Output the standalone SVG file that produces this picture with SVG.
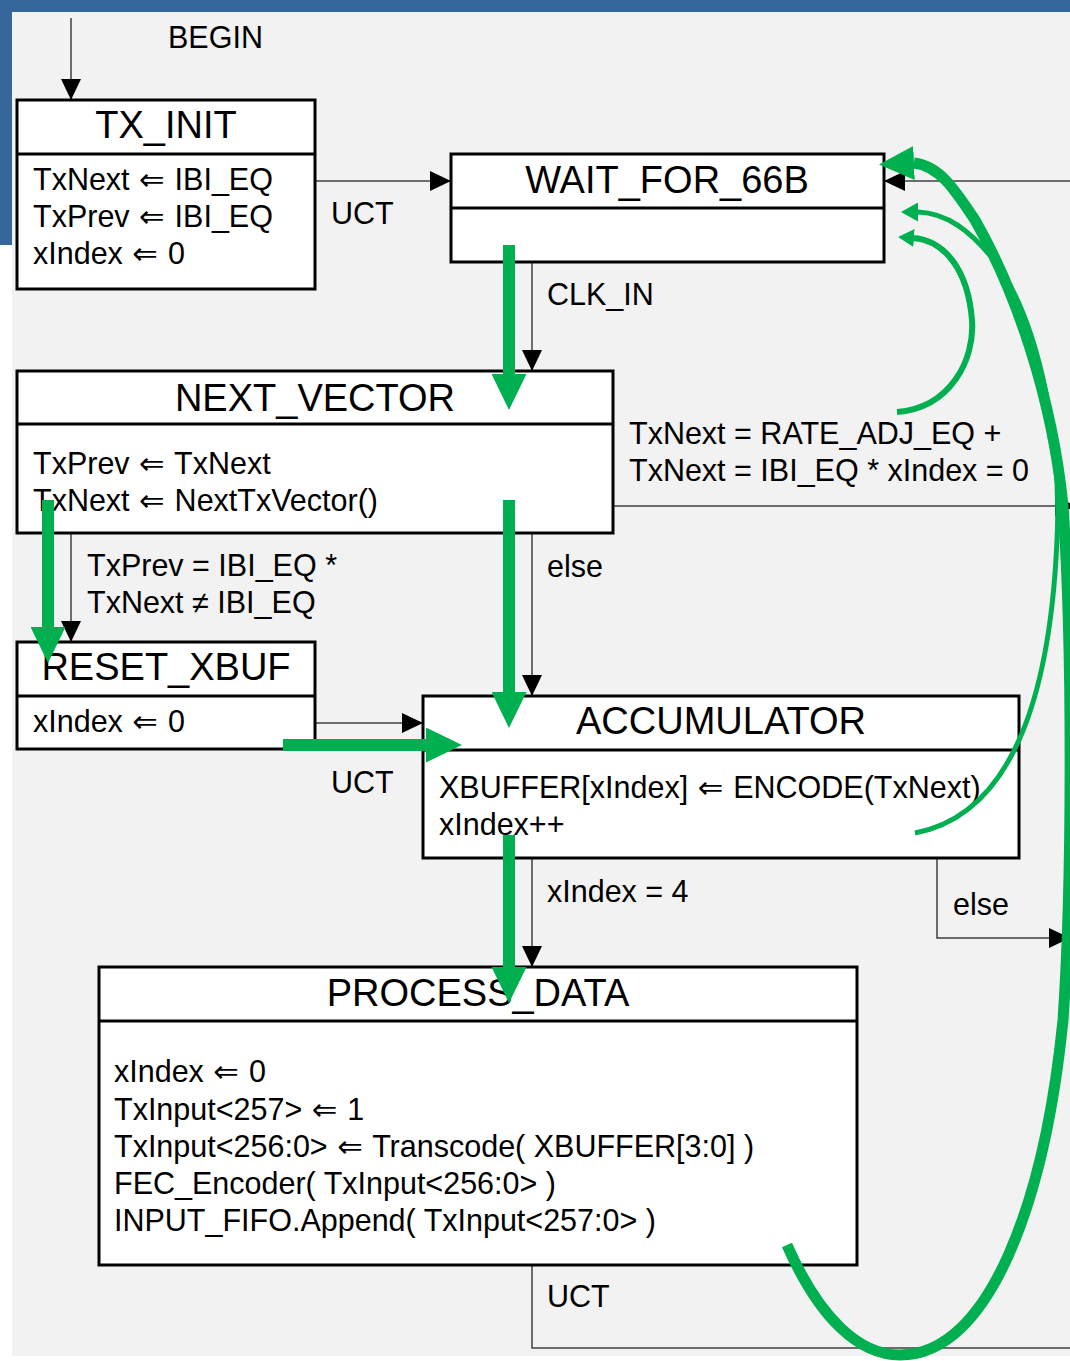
<svg xmlns="http://www.w3.org/2000/svg" width="1070" height="1361" viewBox="0 0 1070 1361">
<defs>
<style>
.box{fill:#fff;stroke:#000;stroke-width:3}
.div{stroke:#000;stroke-width:3}
.title{font-family:"Liberation Sans",Arial,"DejaVu Sans",sans-serif;font-size:38px;text-anchor:middle;fill:#000}
.txt{font-family:"Liberation Sans",Arial,"DejaVu Sans",sans-serif;font-size:30.5px;fill:#000}
.arw{font-family:"DejaVu Sans",sans-serif}
.conn{fill:none;stroke:#404040;stroke-width:1.5}
.hl{fill:none;stroke:#00B050}
</style>
<marker id="ah" markerUnits="userSpaceOnUse" markerWidth="21" markerHeight="20" refX="21" refY="10" orient="auto"><path d="M0,0 L21,10 L0,20 z" fill="#000"/></marker>
<marker id="gh" markerUnits="userSpaceOnUse" markerWidth="36" markerHeight="35" refX="0" refY="17.5" orient="auto"><path d="M0,0 L36,17.5 L0,35 z" fill="#00B050"/></marker>
<marker id="gBig" markerUnits="userSpaceOnUse" markerWidth="35" markerHeight="34" refX="0" refY="17" orient="177.5"><path d="M0,0 L35,17 L0,34 z" fill="#00B050"/></marker>
<marker id="gMid" markerUnits="userSpaceOnUse" markerWidth="17" markerHeight="19" refX="0" refY="9.5" orient="180"><path d="M0,0 L17,9.5 L0,19 z" fill="#00B050"/></marker>
<marker id="gSmall" markerUnits="userSpaceOnUse" markerWidth="16" markerHeight="18" refX="0" refY="9" orient="184"><path d="M0,0 L16,9 L0,18 z" fill="#00B050"/></marker>
</defs>

<g id="background">
<rect x="0" y="0" width="1070" height="1361" fill="#fff"/>
<rect x="0" y="0" width="1070" height="12" fill="#35679C"/>
<rect x="0" y="0" width="12" height="245" fill="#35679C"/>
<rect x="12" y="12" width="1058" height="1344" fill="#F2F2F2"/>
</g>

<g id="connectors">
<path class="conn" d="M71,18 L71,100" marker-end="url(#ah)"/>
<path class="conn" d="M316,181 L451,181" marker-end="url(#ah)"/>
<path class="conn" d="M1070,181 L884,181" marker-end="url(#ah)"/>
<path class="conn" d="M532,263 L532,371" marker-end="url(#ah)"/>
<path class="conn" d="M71,533 L71,642" marker-end="url(#ah)"/>
<path class="conn" d="M532,533 L532,696" marker-end="url(#ah)"/>
<path class="conn" d="M613,506 L1076,506" marker-end="url(#ah)"/>
<path class="conn" d="M315,723 L423,723" marker-end="url(#ah)"/>
<path class="conn" d="M532,858 L532,967" marker-end="url(#ah)"/>
<path class="conn" d="M937,858 L937,938 L1070,938" marker-end="url(#ah)"/>
<path class="conn" d="M532,1265 L532,1348 L1070,1348"/>
<text class="txt" x="168" y="48">BEGIN</text>
<text class="txt" x="331" y="224">UCT</text>
<text class="txt" x="547" y="305">CLK_IN</text>
<text class="txt" x="629" y="444">TxNext = RATE_ADJ_EQ +</text>
<text class="txt" x="629" y="481">TxNext = IBI_EQ * xIndex = 0</text>
<text class="txt" x="87" y="576">TxPrev = IBI_EQ *</text>
<text class="txt" x="87" y="613">TxNext ≠ IBI_EQ</text>
<text class="txt" x="547" y="577">else</text>
<text class="txt" x="331" y="793">UCT</text>
<text class="txt" x="547" y="902">xIndex = 4</text>
<text class="txt" x="953" y="915">else</text>
<text class="txt" x="547" y="1307">UCT</text>
</g>

<g id="TX_INIT">
<rect class="box" x="17" y="100" width="298" height="189"/>
<line class="div" x1="17" y1="154" x2="315" y2="154"/>
<text class="title" x="166" y="138">TX_INIT</text>
<text class="txt" x="33" y="190">TxNext <tspan class="arw" dx="1">⇐</tspan><tspan dx="1.5"> IBI_EQ</tspan></text>
<text class="txt" x="33" y="227">TxPrev <tspan class="arw" dx="1">⇐</tspan><tspan dx="1.5"> IBI_EQ</tspan></text>
<text class="txt" x="33" y="264">xIndex <tspan class="arw" dx="1">⇐</tspan><tspan dx="1.5"> 0</tspan></text>
</g>

<g id="WAIT_FOR_66B">
<rect class="box" x="451" y="154" width="433" height="108"/>
<line class="div" x1="451" y1="208" x2="884" y2="208"/>
<text class="title" x="667" y="193">WAIT_FOR_66B</text>
</g>

<g id="NEXT_VECTOR">
<rect class="box" x="17" y="371" width="596" height="162"/>
<line class="div" x1="17" y1="424" x2="613" y2="424"/>
<text class="title" x="315" y="411">NEXT_VECTOR</text>
<text class="txt" x="33" y="474">TxPrev <tspan class="arw" dx="1">⇐</tspan><tspan dx="1.5"> TxNext</tspan></text>
<text class="txt" x="33" y="511">TxNext <tspan class="arw" dx="1">⇐</tspan><tspan dx="1.5"> NextTxVector()</tspan></text>
</g>

<g id="RESET_XBUF">
<rect class="box" x="17" y="642" width="298" height="107"/>
<line class="div" x1="17" y1="696" x2="315" y2="696"/>
<text class="title" x="166" y="680">RESET_XBUF</text>
<text class="txt" x="33" y="732">xIndex <tspan class="arw" dx="1">⇐</tspan><tspan dx="1.5"> 0</tspan></text>
</g>

<g id="ACCUMULATOR">
<rect class="box" x="423" y="696" width="596" height="162"/>
<line class="div" x1="423" y1="750" x2="1019" y2="750"/>
<text class="title" x="721" y="734">ACCUMULATOR</text>
<text class="txt" x="439" y="798">XBUFFER[xIndex] <tspan class="arw" dx="1">⇐</tspan><tspan dx="1.5"> ENCODE(TxNext)</tspan></text>
<text class="txt" x="439" y="835">xIndex++</text>
</g>

<g id="PROCESS_DATA">
<rect class="box" x="99" y="967" width="758" height="298"/>
<line class="div" x1="99" y1="1021" x2="857" y2="1021"/>
<text class="title" x="478" y="1006">PROCESS_DATA</text>
<text class="txt" x="114" y="1082">xIndex <tspan class="arw" dx="1">⇐</tspan><tspan dx="1.5"> 0</tspan></text>
<text class="txt" x="114" y="1120">TxInput&lt;257&gt; <tspan class="arw" dx="1">⇐</tspan><tspan dx="1.5"> 1</tspan></text>
<text class="txt" x="114" y="1157">TxInput&lt;256:0&gt; <tspan class="arw" dx="1">⇐</tspan><tspan dx="1.5"> Transcode( XBUFFER[3:0] )</tspan></text>
<text class="txt" x="114" y="1194">FEC_Encoder( TxInput&lt;256:0&gt; )</text>
<text class="txt" x="114" y="1231">INPUT_FIFO.Append( TxInput&lt;257:0&gt; )</text>
</g>

<g id="highlights">
<path class="hl" stroke-width="12" d="M509,245 L509,374" marker-end="url(#gh)"/>
<path class="hl" stroke-width="12" d="M48,500 L48,627" marker-end="url(#gh)"/>
<path class="hl" stroke-width="12" d="M509,500 L509,692" marker-end="url(#gh)"/>
<path class="hl" stroke-width="12" d="M283,745 L426,745" marker-end="url(#gh)"/>
<path class="hl" stroke-width="12" d="M509,835 L509,967" marker-end="url(#gh)"/>
<path class="hl" stroke-width="6" d="M897,412 C950,408 975,360 972,320 C968,270 945,241 914,238" marker-end="url(#gSmall)"/>
<path class="hl" stroke-width="5" d="M915,833 C1010,815 1050,700 1057,540 C1062,440 1040,330 1000,268 C970,228 945,213 918,212" marker-end="url(#gMid)"/>
<path class="hl" stroke-width="11" d="M787,1245 C820,1320 860,1355 900,1355 C990,1355 1045,1200 1063,1020 C1072,890 1073,650 1063,506 C1052,395 1015,290 975,220 C955,190 940,166 914,163" marker-end="url(#gBig)"/>
</g>
</svg>
